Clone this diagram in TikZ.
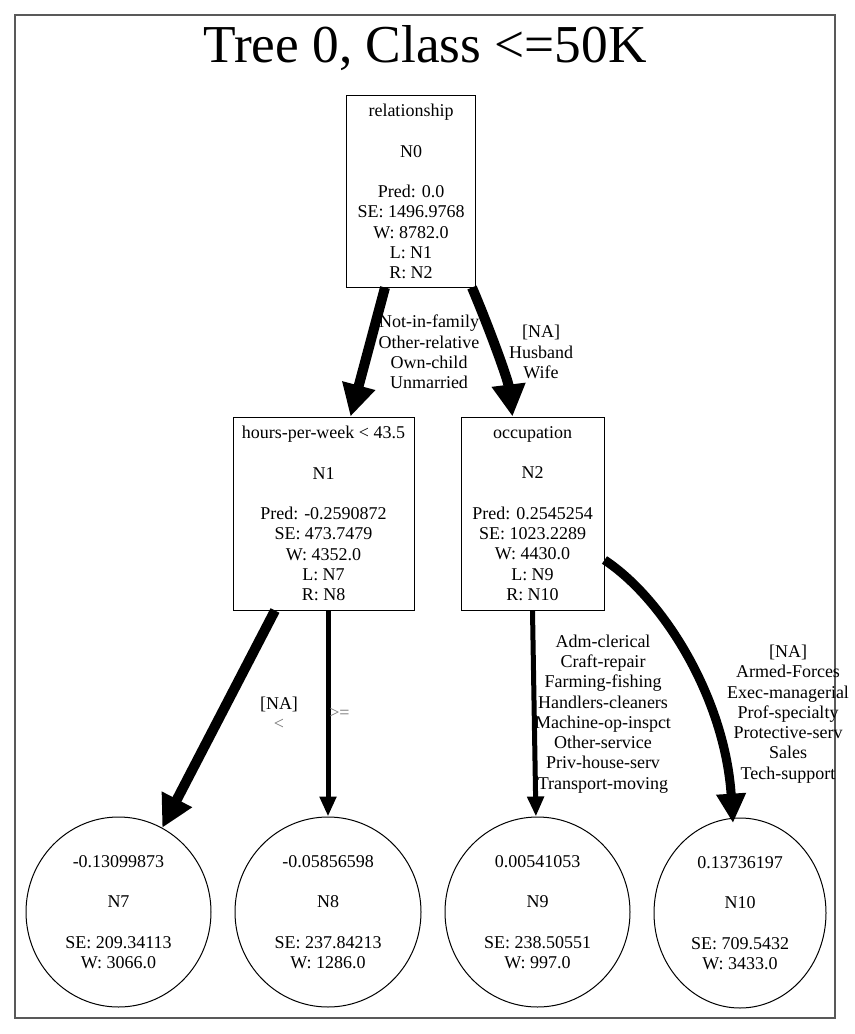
\documentclass[tikz,border=0pt]{standalone}
\usepackage{fontspec}
\setmainfont{Liberation Serif}
\usetikzlibrary{arrows.meta,calc,shapes.geometric}
\newcommand{\emptyln}{\mbox{}}
\begin{document}
\begin{tikzpicture}[x=0.75pt,y=-0.75pt,
  every node/.style={font=\fontsize{13.5pt}{15.2pt}\selectfont, align=center, inner sep=0pt},
  split/.style={draw, line width=0.75pt, rectangle},
  leaf/.style={draw, line width=0.75pt, ellipse, minimum height=142.5pt},
  lbl/.style={},
  lightlbl/.style={text=black!55},
  heavy/.style={line width=7.5pt, -{Triangle[length=24pt,width=24pt]}},
  medium/.style={line width=6.8pt, -{Triangle[length=22pt,width=21pt]}},
  light/.style={line width=3.75pt, -{Triangle[length=15pt,width=12pt]}},
  frame/.style={draw=black!65, line width=1pt}
]
\useasboundingbox (0,0) rectangle (855,1034);
\draw[frame] (15,15) rectangle (835,1018);

\node[font=\fontsize{40pt}{48pt}\selectfont, anchor=base] (title) at (425,63) {Tree 0, Class <=50K};

% split nodes
\node[split, minimum width=96.75pt, minimum height=143.25pt] (n0) at (411,191.5)
  {relationship\\\emptyln\\N0\\\emptyln\\Pred: 0.0\\SE: 1496.9768\\W: 8782.0\\L: N1\\R: N2};
\node[split, minimum width=135.75pt, minimum height=144.75pt] (n1) at (323.5,513.5)
  {hours-per-week < 43.5\\\emptyln\\N1\\\emptyln\\Pred: -0.2590872\\SE: 473.7479\\W: 4352.0\\L: N7\\R: N8};
\node[split, minimum width=107.25pt, minimum height=144.75pt] (n2) at (532.5,513.5)
  {occupation\\\emptyln\\N2\\\emptyln\\Pred: 0.2545254\\SE: 1023.2289\\W: 4430.0\\L: N9\\R: N10};

% leaves
\node[leaf, minimum width=138.75pt] (n7) at (118.5,912)
  {-0.13099873\\\emptyln\\N7\\\emptyln\\SE: 209.34113\\W: 3066.0};
\node[leaf, minimum width=139.5pt] (n8) at (328,912)
  {-0.05856598\\\emptyln\\N8\\\emptyln\\SE: 237.84213\\W: 1286.0};
\node[leaf, minimum width=138.75pt] (n9) at (537.5,912)
  {0.00541053\\\emptyln\\N9\\\emptyln\\SE: 238.50551\\W: 997.0};
\node[leaf, minimum width=129pt] (n10) at (740,913)
  {0.13736197\\\emptyln\\N10\\\emptyln\\SE: 709.5432\\W: 3433.0};

% edges
\draw[heavy] ($(n0.south)+(-26,0)$) -- ($(n1.north)+(27,0)$);
\draw[heavy] ($(n0.south)+(61,0)$) .. controls (490,330) and (508,380) .. ($(n2.north)+(-20,0)$);
\draw[heavy] ($(n1.south)+(-48.5,0)$) -- (n7);
\draw[light] (n1.south -| n8.north) -- (n8.north);
\draw[light] (n2.south) -- (n9);
\draw[medium] ($(n2.east)+(0,46.5)$) .. controls (665,600) and (725,700) .. ($(n10.center)+(-7,-90)$);

% edge labels
\node[lbl] (l01) at (429,352) {Not-in-family\\Other-relative\\Own-child\\Unmarried};
\node[lbl] (l02) at (541,352) {[NA]\\Husband\\Wife};
\node[lbl] (l17) at (279,713) {[NA]\\\textcolor{black!55}{<}};
\node[lightlbl, anchor=west] (l18) at (329,713) {>=};
\node[lbl] (l29) at (603,714) {Adm-clerical\\Craft-repair\\Farming-fishing\\Handlers-cleaners\\Machine-op-inspct\\Other-service\\Priv-house-serv\\Transport-moving};
\node[lbl] (l210) at (788,714) {[NA]\\Armed-Forces\\Exec-managerial\\Prof-specialty\\Protective-serv\\Sales\\Tech-support};
\end{tikzpicture}
\end{document}
